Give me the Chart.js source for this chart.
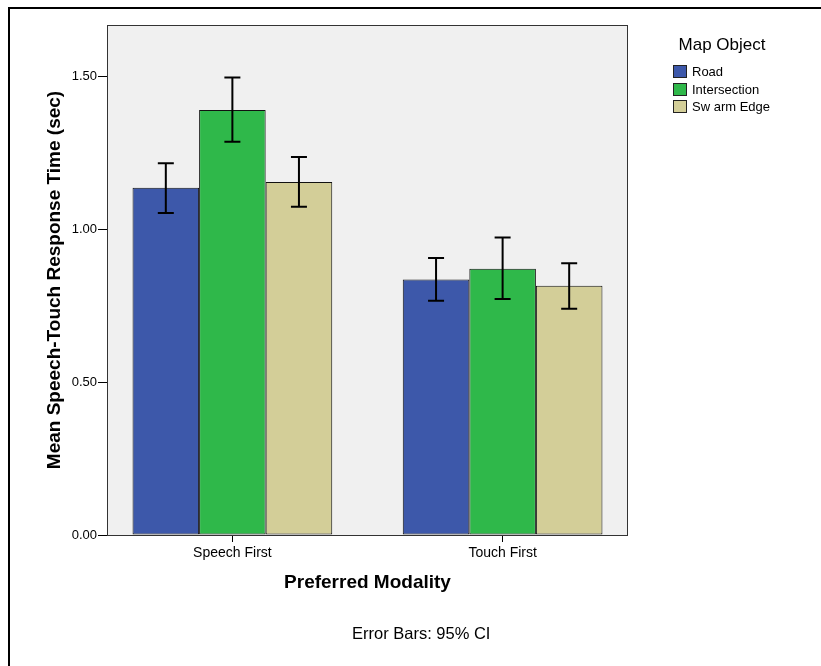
<!DOCTYPE html>
<html>
<head>
<meta charset="utf-8">
<script src="https://cdn.jsdelivr.net/npm/chart.js@4"></script>
<style>
  body { margin: 0; background: #fff; font-family: "Liberation Sans", Arial, sans-serif; }
  #wrap { position: relative; width: 821px; height: 666px; overflow: hidden; }
  #frame { position: absolute; left: 8px; top: 7px; width: 900px; height: 800px;
           border-top: 2px solid #000; border-left: 2px solid #000; }
  #legend { position: absolute; left: 668px; top: 33px; color: #000; }
  #legend .ttl { font-size: 17px; width: 110px; text-align: center; margin-left: -1px; height: 24px; line-height: 24px; margin-bottom: 6px; }
  #legend .item { height: 17.6px; display: flex; align-items: center; font-size: 13px; margin-left: 5px; }
  #legend .sw { width: 12px; height: 11px; border: 1px solid #222; margin-right: 5px; }
  #note { position: absolute; left: 352px; top: 624px; font-size: 16.5px; color: #000; }
  canvas { position: absolute; left: 0; top: 0; }
</style>
</head>
<body>
<div id="wrap">
  <div id="frame"></div>
  <canvas id="barChart" width="821" height="666"></canvas>
  <div id="legend"></div>
  <div id="note">Error Bars: 95% CI</div>
</div>
<script>
// data
let categories = ['Speech First', 'Touch First'];
let seriesNames = ['Road', 'Intersection', 'Sw arm Edge'];
let seriesColors = ['#3d58aa', '#2fb84a', '#d3ce98'];

let roadMean = [1.137, 0.837];
let roadLow = [1.054, 0.767];
let roadHigh = [1.217, 0.907];

let interMean = [1.392, 0.872];
let interLow = [1.288, 0.773];
let interHigh = [1.498, 0.974];

let swarmMean = [1.156, 0.816];
let swarmLow = [1.075, 0.741];
let swarmHigh = [1.238, 0.890];

let yTicks = [0, 0.5, 1.0, 1.5];

let means = [roadMean, interMean, swarmMean];
let lows = [roadLow, interLow, swarmLow];
let highs = [roadHigh, interHigh, swarmHigh];

let fontFam = '"Liberation Sans", Arial, sans-serif';

// empty space left/right of the outer categories, in category units (SPSS style)
let catPad = 0.464;

// plot background + outline + error bars
let plotDeco = {
  id: 'plotDeco',
  beforeDatasetsDraw(chart) {
    let ctx = chart.ctx;
    let a = chart.chartArea;
    ctx.save();
    ctx.fillStyle = '#f0f0f0';
    ctx.fillRect(a.left, a.top, a.right - a.left, a.bottom - a.top);
    ctx.restore();
  },
  afterDatasetsDraw(chart) {
    let ctx = chart.ctx;
    let a = chart.chartArea;
    let y = chart.scales.y;
    ctx.save();
    ctx.strokeStyle = '#000';
    ctx.lineWidth = 2;
    chart.data.datasets.forEach((ds, di) => {
      let meta = chart.getDatasetMeta(di);
      meta.data.forEach((bar, i) => {
        let yl = y.getPixelForValue(lows[di][i]);
        let yh = y.getPixelForValue(highs[di][i]);
        ctx.beginPath();
        ctx.moveTo(bar.x, yl);
        ctx.lineTo(bar.x, yh);
        ctx.moveTo(bar.x - 8, yl);
        ctx.lineTo(bar.x + 8, yl);
        ctx.moveTo(bar.x - 8, yh);
        ctx.lineTo(bar.x + 8, yh);
        ctx.stroke();
      });
    });
    ctx.lineWidth = 1;
    ctx.strokeStyle = '#333';
    ctx.strokeRect(a.left + 0.5, a.top + 0.5, a.right - a.left - 1, a.bottom - a.top);
    ctx.restore();
  }
};

let ctx = document.getElementById('barChart').getContext('2d');

let myBarChart = new Chart(ctx, {
  type: 'bar',
  data: {
    labels: categories,
    datasets: seriesNames.map((name, i) => ({
      label: name,
      data: means[i],
      backgroundColor: seriesColors[i],
      borderColor: '#111',
      borderWidth: 1,
      borderSkipped: false
    }))
  },
  options: {
    responsive: false,
    animation: false,
    layout: {
      padding: { left: 0, top: 25, right: 193, bottom: 0 }
    },
    datasets: {
      bar: { categoryPercentage: 0.739, barPercentage: 1.0 }
    },
    plugins: {
      legend: { display: false },
      tooltip: { enabled: false }
    },
    scales: {
      x: {
        offset: true,
        grid: { display: true, drawOnChartArea: false, drawTicks: true, tickLength: 7, color: '#000', offset: false },
        border: { display: false },
        ticks: { color: '#000', padding: 3, font: { family: fontFam, size: 14 } },
        title: {
          display: true,
          text: 'Preferred Modality',
          color: '#000',
          font: { family: fontFam, size: 19, weight: 'bold' },
          padding: { top: 0, bottom: 72 }
        },
        afterFit: function (scale) { scale.height = 131; },
        afterUpdate: function (scale) {
          scale._startValue = -catPad;
          scale._valueRange = (categories.length - 1) + 2 * catPad;
        }
      },
      y: {
        min: 0,
        max: 1.67,
        grid: { display: true, drawOnChartArea: false, drawTicks: true, tickLength: 9, color: '#000' },
        border: { display: false },
        afterBuildTicks: function (scale) {
          scale.ticks = yTicks.map(v => ({ value: v }));
        },
        ticks: {
          color: '#000',
          padding: 1,
          font: { family: fontFam, size: 13 },
          callback: function (v) { return Number(v).toFixed(2); }
        },
        title: {
          display: true,
          text: 'Mean Speech-Touch Response Time (sec)',
          color: '#000',
          font: { family: fontFam, size: 19, weight: 'bold' },
          padding: { top: 43, bottom: 0 }
        },
        afterFit: function (scale) { scale.width = 107; }
      }
    }
  },
  plugins: [plotDeco]
});

// legend
let legend = document.getElementById('legend');
let html = '<div class="ttl">Map Object</div>';
seriesNames.forEach((name, i) => {
  html += '<div class="item"><span class="sw" style="background:' + seriesColors[i] + '"></span>' + name + '</div>';
});
legend.innerHTML = html;
</script>
</body>
</html>
